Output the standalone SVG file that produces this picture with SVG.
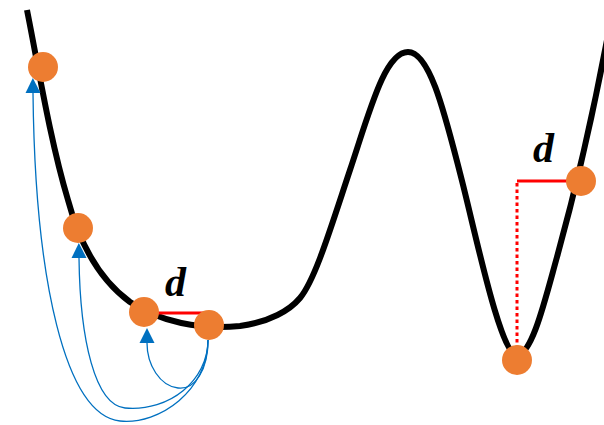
<svg xmlns="http://www.w3.org/2000/svg" width="604" height="425" viewBox="0 0 604 425">
  <style>
    .curve { fill: none; stroke: #000; stroke-width: 6; stroke-linecap: butt; }
    .pt { fill: #ED7D31; }
    .arc { fill: none; stroke: #0070C0; stroke-width: 1.3; }
    .red { fill: none; stroke: #FF0000; stroke-width: 3; }
    .lbl { font-family: "Liberation Serif", "DejaVu Serif", serif; font-style: italic; font-weight: bold; font-size: 42px; fill: #000; }
  </style>
  <defs>
    <marker id="ah" markerUnits="userSpaceOnUse" markerWidth="16" markerHeight="16" refX="0" refY="8" orient="auto">
      <path d="M0,0.5 L15,8 L0,15.5 z" fill="#0070C0"/>
    </marker>
  </defs>
  <rect width="604" height="425" fill="#fff"/>
  <g id="landscape">
    <path class="curve" d="M27,10 C38,65 50,140 68,200 C80,245 100,280 130,302 C160,322 200,330 240,326 C270,322 290,310 300,298 C315,280 330,230 350,170 C370,110 385,52 408,52 C430,52 445,115 460,173 C475,230 500,355 517,355 C532,355 545,300 557,257 C570,210 590,130 607,40"/>
  </g>
  <g id="distances">
    <line class="red" x1="150" y1="313" x2="205" y2="313"/>
    <line class="red" x1="517" y1="181" x2="570" y2="181"/>
    <line class="red" x1="517" y1="183" x2="517" y2="350" stroke-width="3.5" stroke-dasharray="3.5,3"/>
    <text class="lbl" x="165" y="296">d</text>
    <text class="lbl" x="533" y="162">d</text>
  </g>
  <g id="connectors">
    <path class="arc" d="M208,340 C208,370 195,390 178,388 C160,386 147,365 147,343" marker-end="url(#ah)"/>
    <path class="arc" d="M208,340 C208,380 170,412 125,408 C95,405 80,340 79,258" marker-end="url(#ah)"/>
    <path class="arc" d="M208,340 C208,390 160,425 120,421 C65,415 35,280 33,93" marker-end="url(#ah)"/>
  </g>
  <g id="node1"><circle class="pt" cx="43" cy="67" r="15"/></g>
  <g id="node2"><circle class="pt" cx="78" cy="228" r="15"/></g>
  <g id="node3"><circle class="pt" cx="144" cy="312" r="15"/></g>
  <g id="node4"><circle class="pt" cx="209" cy="325" r="15"/></g>
  <g id="node5"><circle class="pt" cx="581" cy="181" r="15"/></g>
  <g id="node6"><circle class="pt" cx="517" cy="360" r="15"/></g>
</svg>
